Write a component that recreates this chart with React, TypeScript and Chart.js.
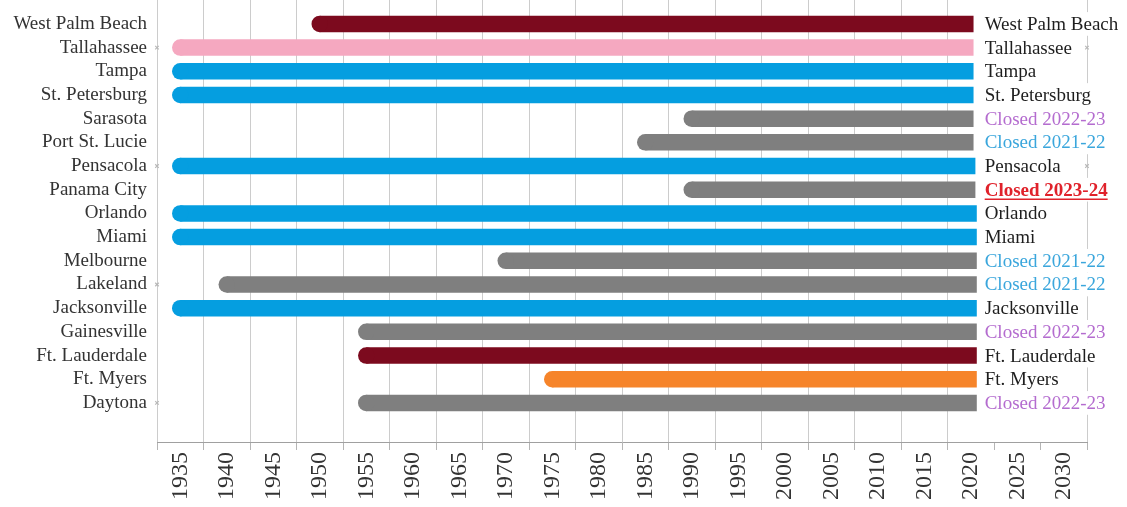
import { useEffect, useRef } from "react";
import { Chart, registerables } from "chart.js";

Chart.register(...registerables);

// Rows, top to bottom
const cities = [
  "West Palm Beach",
  "Tallahassee",
  "Tampa",
  "St. Petersburg",
  "Sarasota",
  "Port St. Lucie",
  "Pensacola",
  "Panama City",
  "Orlando",
  "Miami",
  "Melbourne",
  "Lakeland",
  "Jacksonville",
  "Gainesville",
  "Ft. Lauderdale",
  "Ft. Myers",
  "Daytona",
];

// First year of each span
const startYears = [1950, 1935, 1935, 1935, 1990, 1985, 1935, 1990, 1935, 1935, 1970, 1940, 1935, 1955, 1955, 1975, 1955];

// Last year of each span
const endYears = [
  2020.3, 2020.3, 2020.3, 2020.3, 2020.3, 2020.3, 2020.5, 2020.5, 2020.65,
  2020.65, 2020.65, 2020.65, 2020.65, 2020.65, 2020.65, 2020.65, 2020.65,
];

const barColors = [
  "#7c0a1e", "#f5a8c0", "#059ee0", "#059ee0", "#7f7f7f", "#7f7f7f", "#059ee0", "#7f7f7f", "#059ee0",
  "#059ee0", "#7f7f7f", "#7f7f7f", "#059ee0", "#7f7f7f", "#7c0a1e", "#f6842a", "#7f7f7f",
];

// Text shown at the right end of each row
const statusLabels = [
  "West Palm Beach",
  "Tallahassee",
  "Tampa",
  "St. Petersburg",
  "Closed 2022-23",
  "Closed 2021-22",
  "Pensacola",
  "Closed 2023-24",
  "Orlando",
  "Miami",
  "Closed 2021-22",
  "Closed 2021-22",
  "Jacksonville",
  "Closed 2022-23",
  "Ft. Lauderdale",
  "Ft. Myers",
  "Closed 2022-23",
];

const statusColors = [
  "#1e1e1e", "#1e1e1e", "#1e1e1e", "#1e1e1e", "#b46ccf", "#3aa6dc", "#1e1e1e", "#e0222b", "#1e1e1e",
  "#1e1e1e", "#3aa6dc", "#3aa6dc", "#1e1e1e", "#b46ccf", "#1e1e1e", "#1e1e1e", "#b46ccf",
];

// Row whose status is emphasised (bold + underline)
const emphasisRows = [7];

// Year labels along the bottom, each centred in its 5-year band
const yearLabels = [
  1935, 1940, 1945, 1950, 1955, 1960, 1965, 1970, 1975, 1980,
  1985, 1990, 1995, 2000, 2005, 2010, 2015, 2020, 2025, 2030,
];

// Small axis markers (row indices) on the left and right edges
const leftMarkerRows = [1, 6, 11, 16];
const rightMarkerRows = [1, 6];

const FONT = "'Liberation Serif', 'Times New Roman', serif";
const BAR_THICKNESS = 16.5;
const HALF_BAND = 2.5;
const X_MIN = yearLabels[0] - HALF_BAND;
const X_MAX = yearLabels[yearLabels.length - 1] + HALF_BAND;
const STATUS_AT = 2021.5;
const gridYears = [...yearLabels.map((y) => y - HALF_BAND), X_MAX];

const statusPlugin = {
  id: "statusLabels",
  afterDatasetsDraw(chart: any) {
    const { ctx, scales } = chart;
    const xs = scales.x;
    const ys = scales.y;
    const rowH = Math.abs(ys.getPixelForValue(1) - ys.getPixelForValue(0));
    const x0 = xs.getPixelForValue(STATUS_AT);
    ctx.save();
    ctx.textBaseline = "middle";
    ctx.textAlign = "left";
    statusLabels.forEach((text, i) => {
      const bold = emphasisRows.includes(i);
      ctx.font = `${bold ? "bold " : ""}19px ${FONT}`;
      const w = ctx.measureText(text).width;
      const y = ys.getPixelForValue(i);
      ctx.fillStyle = "#ffffff";
      ctx.fillRect(x0 - 2, y - rowH / 2, w + 4, rowH);
      ctx.fillStyle = statusColors[i];
      ctx.fillText(text, x0, y + 1);
      if (bold) {
        ctx.strokeStyle = statusColors[i];
        ctx.lineWidth = 1.5;
        ctx.beginPath();
        ctx.moveTo(x0, y + 9.5);
        ctx.lineTo(x0 + w, y + 9.5);
        ctx.stroke();
      }
    });
    ctx.restore();
  },
};

export default function App() {
  const ref = useRef<HTMLCanvasElement>(null);

  useEffect(() => {
    document.body.style.margin = "0";
    const canvas = ref.current;
    if (!canvas) return;

    const rowDatasets = cities.map((city, i) => ({
      type: "line",
      label: city,
      data: [
        { x: startYears[i], y: i },
        { x: endYears[i], y: i },
      ],
      borderColor: barColors[i],
      backgroundColor: barColors[i],
      borderWidth: BAR_THICKNESS,
      borderCapStyle: "butt",
      pointRadius: (c: any) => (c.dataIndex === 0 ? BAR_THICKNESS / 2 : 0),
      pointHoverRadius: 0,
      pointBorderWidth: 0,
      pointBackgroundColor: barColors[i],
      tension: 0,
    }));

    const markerDataset = {
      type: "scatter",
      label: "markers",
      data: [
        ...leftMarkerRows.map((r) => ({ x: X_MIN, y: r })),
        ...rightMarkerRows.map((r) => ({ x: X_MAX, y: r })),
      ],
      pointStyle: "crossRot",
      pointRadius: 2.5,
      pointBorderWidth: 1.2,
      pointBorderColor: "#b8b8b8",
      pointBackgroundColor: "#b8b8b8",
      clip: false,
    };

    const chart = new Chart(canvas, {
      type: "line",
      data: { datasets: [...rowDatasets, markerDataset] as any },
      plugins: [statusPlugin],
      options: {
        animation: false,
        responsive: false,
        events: [],
        layout: { autoPadding: false, padding: { left: 0, top: 0, right: 40, bottom: 0 } },
        plugins: { legend: { display: false }, tooltip: { enabled: false } },
        scales: {
          x: {
            type: "linear",
            min: X_MIN,
            max: X_MAX,
            afterBuildTicks: (s: any) => {
              s.ticks = gridYears.map((v) => ({ value: v }));
            },
            afterFit: (s: any) => {
              s.height = 65;
              s.paddingLeft = 0;
              s.paddingRight = 0;
            },
            ticks: {
              autoSkip: false,
              minRotation: 90,
              maxRotation: 90,
              labelOffset: 23.25,
              padding: 2,
              color: "#333333",
              font: { family: FONT, size: 24 },
              callback: (_v: any, i: number) => (i < yearLabels.length ? String(yearLabels[i]) : ""),
            },
            grid: {
              color: (c: any) => {
                const v = c.tick ? c.tick.value : 0;
                return v > STATUS_AT && v < X_MAX ? "rgba(0,0,0,0)" : "#cccccc";
              },
              tickColor: "#b5b5b5",
              tickLength: 8,
              lineWidth: 1,
            },
            border: { display: true, color: "#a0a0a0", width: 1 },
          },
          y: {
            type: "linear",
            reverse: true,
            min: -1.01,
            max: 17.65,
            afterBuildTicks: (s: any) => {
              s.ticks = cities.map((_c, i) => ({ value: i }));
            },
            afterFit: (s: any) => {
              s.width = 157;
              s.paddingTop = 0;
              s.paddingBottom = 0;
            },
            ticks: {
              autoSkip: false,
              padding: 10,
              color: "#333333",
              font: { family: FONT, size: 19 },
              callback: (v: any) => cities[v as number] ?? "",
            },
            grid: { display: false, drawTicks: false },
            border: { display: false },
          },
        },
      } as any,
    });

    return () => chart.destroy();
  }, []);

  return <canvas ref={ref} width={1127} height={507} style={{ display: "block" }} />;
}
